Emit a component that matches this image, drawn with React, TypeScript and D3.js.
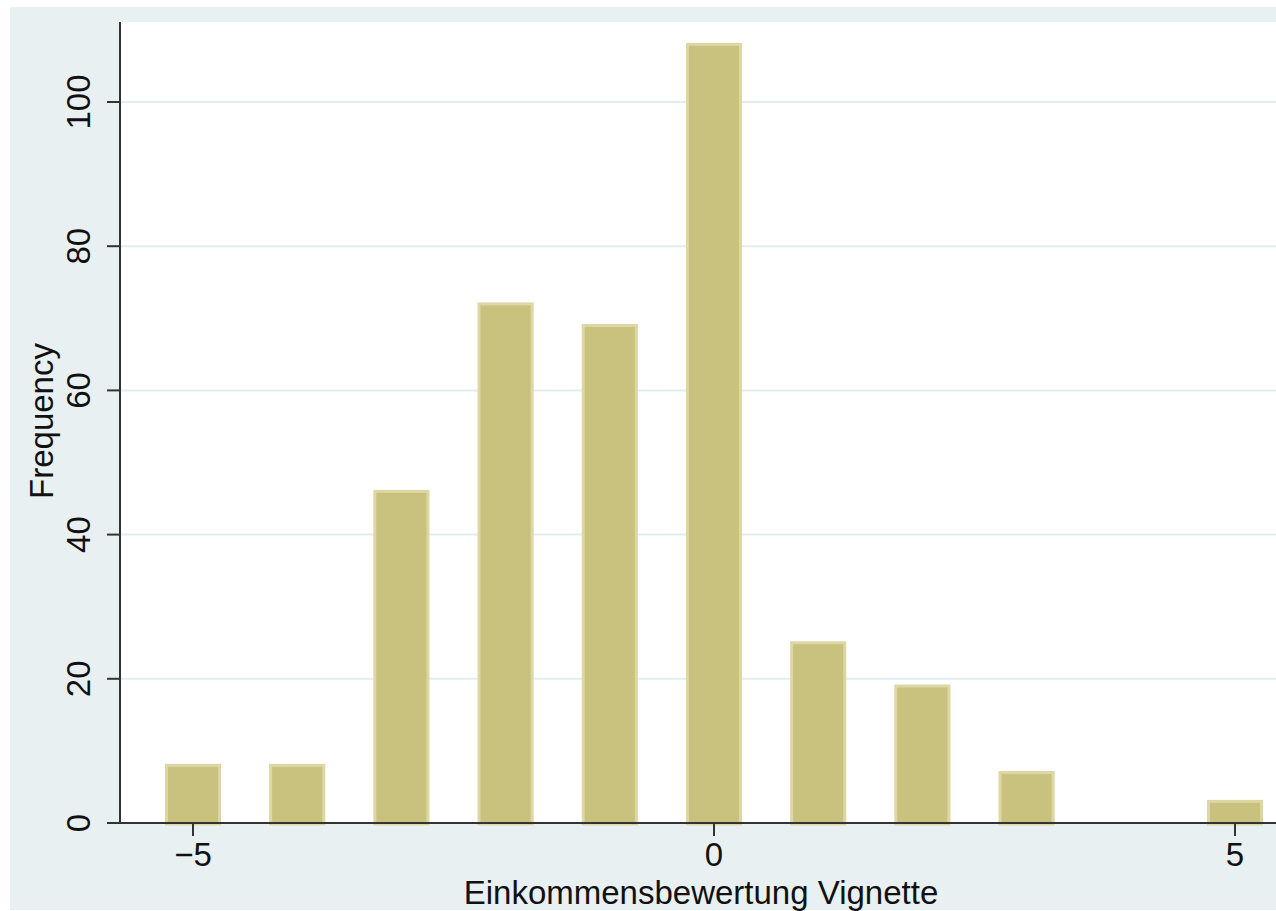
import React from "react";
import * as d3 from "d3";

// Histogram of income rating vignette (discrete bins)
const bins = [-5, -4, -3, -2, -1, 0, 1, 2, 3, 4, 5];
const freqs = [8, 8, 46, 72, 69, 108, 25, 19, 7, 0, 3];
const xTicks = [-5, 0, 5];
const yTicks = [0, 20, 40, 60, 80, 100];

const W = 1276;
const H = 911;
const font = "'Liberation Sans', Arial, sans-serif";

export default function App() {
  const x = d3.scaleLinear().domain([-5, 5]).range([193, 1235]);
  const y = d3.scaleLinear().domain([0, 100]).range([823, 102]);

  const plotLeft = 120;
  const plotTop = 22;
  const plotRight = W;
  const baseY = y(0);
  const barW = x(0.51) - x(0);

  return (
    <svg
      width={W}
      height={H}
      style={{ position: "absolute", left: 0, top: 0, display: "block" }}
      fontFamily={font}
    >
      <rect x={0} y={0} width={W} height={H} fill="#ffffff" />
      <rect x={10} y={7} width={W - 10} height={903} fill="#e9f0f2" />
      <rect
        x={plotLeft}
        y={plotTop}
        width={plotRight - plotLeft}
        height={baseY - plotTop}
        fill="#ffffff"
      />

      {/* gridlines */}
      {yTicks
        .filter((t) => t > 0)
        .map((t) => (
          <line
            key={"g" + t}
            x1={plotLeft}
            x2={plotRight}
            y1={y(t)}
            y2={y(t)}
            stroke="#e3edf0"
            strokeWidth={2}
          />
        ))}

      {/* bars */}
      {bins.map((b, i) =>
        freqs[i] > 0 ? (
          <rect
            key={"b" + b}
            x={x(b) - barW / 2}
            y={y(freqs[i])}
            width={barW}
            height={baseY - y(freqs[i]) + 1}
            fill="#c9c27f"
            stroke="#ddd7a5"
            strokeWidth={3}
          />
        ) : null
      )}

      {/* axes */}
      <line x1={plotLeft} x2={plotLeft} y1={plotTop} y2={baseY} stroke="#333" strokeWidth={2} />
      <line x1={107} x2={plotRight} y1={baseY} y2={baseY} stroke="#333" strokeWidth={2} />

      {yTicks.map((t) => (
        <g key={"yt" + t}>
          <line x1={107} x2={plotLeft} y1={y(t)} y2={y(t)} stroke="#333" strokeWidth={2} />
          <text
            transform={`translate(90,${y(t)}) rotate(-90)`}
            textAnchor="middle"
            fontSize={33}
            fill="#111"
          >
            {t}
          </text>
        </g>
      ))}

      {xTicks.map((t) => (
        <g key={"xt" + t}>
          <line x1={x(t)} x2={x(t)} y1={baseY} y2={baseY + 13} stroke="#333" strokeWidth={2} />
          <text x={x(t)} y={866} textAnchor="middle" fontSize={33} fill="#111">
            {t < 0 ? "\u2212" + Math.abs(t) : t}
          </text>
        </g>
      ))}

      <text
        transform={`translate(53,421) rotate(-90)`}
        textAnchor="middle"
        fontSize={33}
        fill="#111"
      >
        Frequency
      </text>
      <text x={701} y={904} textAnchor="middle" fontSize={33} fill="#111">
        Einkommensbewertung Vignette
      </text>
    </svg>
  );
}
